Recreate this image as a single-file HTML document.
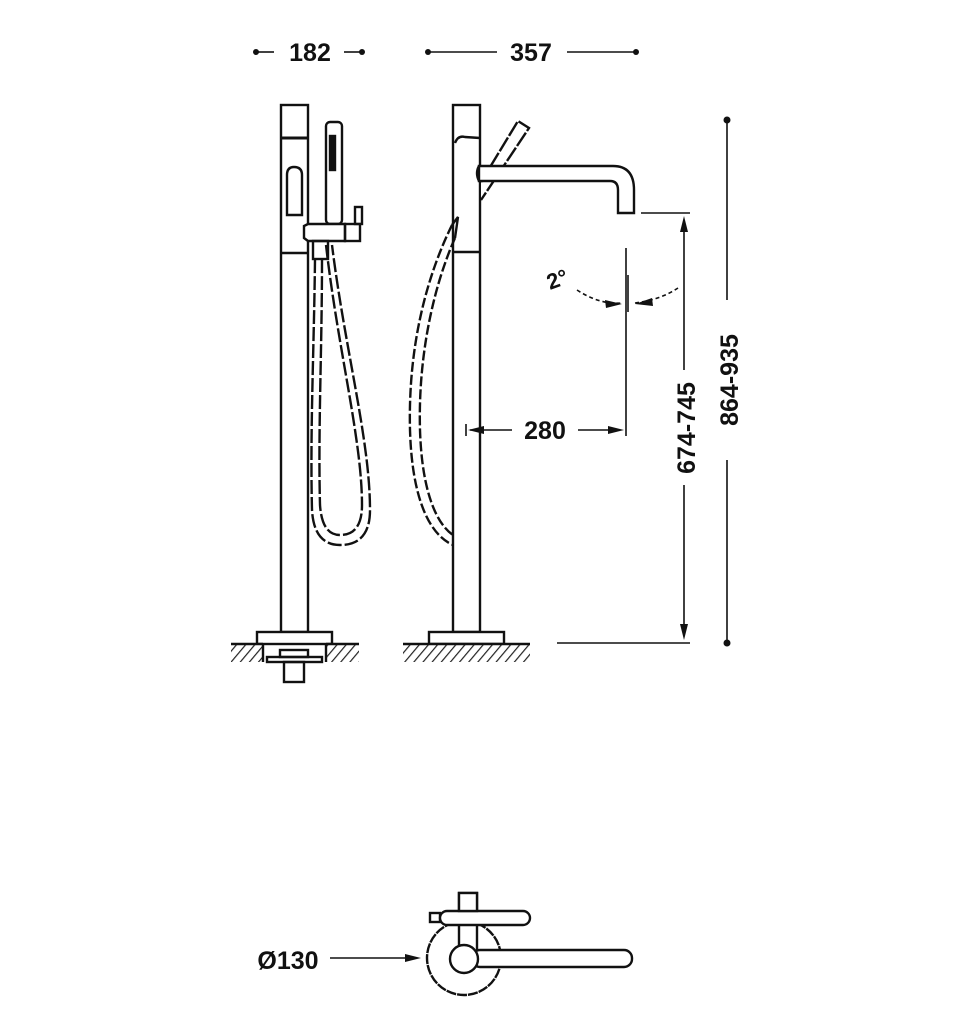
<!DOCTYPE html>
<html><head><style>body{margin:0;background:#fff}svg{display:block}</style></head>
<body>
<svg width="980" height="1024" viewBox="0 0 980 1024" xmlns="http://www.w3.org/2000/svg">
<defs>
<pattern id="h" width="7" height="7" patternUnits="userSpaceOnUse" patternTransform="rotate(40)">
<rect width="7" height="7" fill="#fff"/><line x1="0" y1="0" x2="0" y2="7" stroke="#222" stroke-width="2.4"/>
</pattern>
</defs>
<g fill="none" stroke="#111" stroke-width="2.4">
<!-- LEFT VIEW -->
<rect x="281" y="105" width="27" height="527" fill="#fff"/>
<line x1="281" y1="138" x2="308" y2="138" stroke-width="3"/>
<line x1="281" y1="253" x2="308" y2="253"/>
<path d="M287 215 V175 Q287 167 294 167 Q302 167 302 175 V215 Z"/>
<rect x="326" y="122" width="16" height="102" rx="4"/>
<rect x="330" y="136" width="5" height="34" fill="#111"/>
<path d="M304 234 V226 L308 224 H345 V241 H308 L304 238 Z" fill="#fff"/>
<rect x="345" y="224" width="15" height="17"/>
<rect x="355" y="207" width="7" height="17"/>
<rect x="313" y="241" width="15" height="18"/>
<g stroke-dasharray="14 3">
<path d="M315 259 C314 350 310 430 312 510 Q314 545 340 545 Q370 545 370 510 C370 440 345 350 332 245"/>
<path d="M322 259 C322 350 318 430 320 505 Q322 535 340 535 Q362 535 362 505 C362 440 338 350 326 245"/>
</g>
<rect x="257" y="632" width="75" height="12" fill="#fff"/>
<path d="M231 644 H263 V662 H231 Z M326 644 H359 V662 H326 Z" fill="url(#h)" stroke="none"/>
<line x1="231" y1="644" x2="263" y2="644"/><line x1="326" y1="644" x2="359" y2="644"/>
<line x1="263" y1="644" x2="263" y2="662"/><line x1="326" y1="644" x2="326" y2="662"/>
<rect x="280" y="650" width="28" height="7"/>
<rect x="267" y="657" width="55" height="5"/>
<rect x="284" y="662" width="20" height="20"/>
<!-- RIGHT VIEW -->
<rect x="453" y="105" width="27" height="527" fill="#fff"/>
<path d="M455 143 Q458 135 465 137 L480 138"/>
<line x1="453" y1="252" x2="480" y2="252"/>
<path d="M481 182 L518 121 L529 128 L481 200" stroke-dasharray="16 2" fill="#fff"/>
<path d="M479 166 H613 Q634 166 634 190 V213 H618 V190 Q618 181 610 181 H479 Z" fill="#fff"/>
<path d="M479 166 Q475 173 479 181"/>
<g stroke-dasharray="10 3">
<path d="M452 225 C425 280 408 350 410 430 C412 500 430 535 453 545"/>
<path d="M455 238 C432 290 418 360 420 430 C422 495 438 525 453 535"/>
</g>
<path d="M452 225 L458 217 L455 238"/>
<rect x="429" y="632" width="75" height="12" fill="#fff"/>
<rect x="403" y="644" width="127" height="18" fill="url(#h)" stroke="none"/>
<line x1="403" y1="644" x2="530" y2="644"/>
<!-- dims -->
<line x1="258" y1="52" x2="274" y2="52" stroke-width="1.6"/><line x1="344" y1="52" x2="360" y2="52" stroke-width="1.6"/>
<line x1="430" y1="52" x2="497" y2="52" stroke-width="1.6"/><line x1="567" y1="52" x2="634" y2="52" stroke-width="1.6"/>
<line x1="727" y1="122" x2="727" y2="300" stroke-width="1.6"/><line x1="727" y1="460" x2="727" y2="642" stroke-width="1.6"/>
<line x1="684" y1="222" x2="684" y2="370" stroke-width="1.6"/><line x1="684" y1="485" x2="684" y2="632" stroke-width="1.6"/>
<line x1="641" y1="213" x2="690" y2="213" stroke-width="1.6"/>
<line x1="557" y1="643" x2="690" y2="643" stroke-width="1.6"/>
<line x1="626" y1="248" x2="626" y2="436" stroke-width="1.6"/>
<line x1="628" y1="275" x2="628" y2="312" stroke-width="1.6"/>
<line x1="470" y1="430" x2="512" y2="430" stroke-width="1.6"/><line x1="578" y1="430" x2="620" y2="430" stroke-width="1.6"/>
<line x1="466" y1="424" x2="466" y2="436" stroke-width="1.6"/>
<path d="M577 290 Q600 305 622 303 M635 303 Q660 300 678 288" stroke-width="1.6" stroke-dasharray="4 3"/>
<line x1="330" y1="958" x2="415" y2="958" stroke-width="1.6"/>
<!-- plan -->
<circle cx="464" cy="958" r="37" fill="#fff" stroke-dasharray="10 1"/>
<rect x="459" y="893" width="18" height="65" fill="#fff"/>
<rect x="430" y="913" width="10" height="9"/>
<rect x="440" y="911" width="90" height="14" rx="7" fill="#fff"/>
<rect x="459" y="893" width="18" height="18" fill="#fff"/>
<rect x="472" y="950" width="160" height="17" rx="8" fill="#fff"/>
<circle cx="464" cy="959" r="14" fill="#fff"/>
</g>
<g fill="#111">
<circle cx="256" cy="52" r="3"/><circle cx="362" cy="52" r="3"/>
<circle cx="428" cy="52" r="3"/><circle cx="636" cy="52" r="3"/>
<circle cx="727" cy="120" r="3.5"/><circle cx="727" cy="643" r="3.5"/>
<path d="M684 216 L680 232 L688 232 Z M684 640 L680 624 L688 624 Z"/>
<path d="M468 430 L484 426 L484 434 Z M624 430 L608 426 L608 434 Z"/>
<path d="M421 958 L405 954 L405 962 Z"/>
<path d="M622 304 L605 300 L606 308 Z M635 304 L652 298 L653 306 Z"/>
</g>
<g font-family="Liberation Sans, sans-serif" font-weight="bold" font-size="25" fill="#111">
<text x="310" y="61" text-anchor="middle">182</text>
<text x="531" y="61" text-anchor="middle">357</text>
<text x="545" y="439" text-anchor="middle">280</text>
<text x="288" y="969" text-anchor="middle">Ø130</text>
<text transform="translate(738 380) rotate(-90)" text-anchor="middle">864-935</text>
<text transform="translate(695 428) rotate(-90)" text-anchor="middle">674-745</text>
<text transform="translate(550 290) rotate(-20)" font-size="22">2°</text>
</g>
</svg>
</body></html>
